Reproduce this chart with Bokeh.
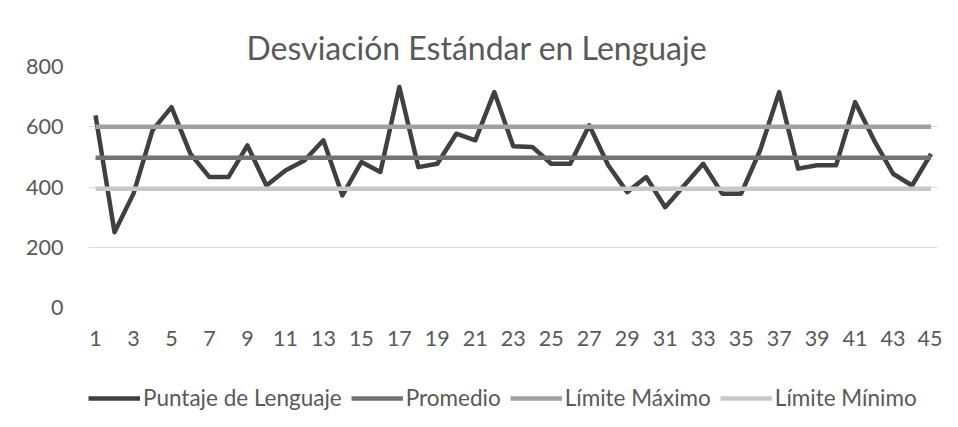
from bokeh.plotting import figure
from bokeh.layouts import column
from bokeh.models import FixedTicker, Legend, LegendItem, Range1d, Title
from bokeh.embed import file_html
from bokeh.resources import INLINE

# ---- data ----
estudiantes = list(range(1, 46))
puntaje = [638, 250, 378, 588, 665, 510, 433, 433, 538, 405,
           455, 488, 555, 372, 483, 450, 732, 466, 477, 577,
           555, 715, 535, 533, 477, 477, 605, 472, 383, 433,
           333, 405, 477, 378, 378, 522, 715, 461, 472, 472,
           682, 555, 444, 405, 510]
promedio_valor = 497
limite_maximo_valor = 600
limite_minimo_valor = 394
promedio = [promedio_valor] * len(estudiantes)
limite_maximo = [limite_maximo_valor] * len(estudiantes)
limite_minimo = [limite_minimo_valor] * len(estudiantes)
y_ticks = [0, 200, 400, 600, 800]
x_ticks = list(range(1, 46, 2))
titulo = "Desviación Estándar en Lenguaje"
nombres = ["Puntaje de Lenguaje", "Promedio", "Límite Máximo", "Límite Mínimo"]

FONT = "Lato"
TXT = "#595959"
colores = ["#404040", "#737373", "#a0a0a0", "#c8c8c8"]
series = [puntaje, promedio, limite_maximo, limite_minimo]
LW = 4.5

x0, x1 = 0.63, 45.34
p = figure(width=942, height=357, output_backend="svg", toolbar_location=None,
           x_range=Range1d(x0, x1), y_range=Range1d(0, 800),
           min_border_left=88, min_border_right=5, min_border_top=66,
           min_border_bottom=50)
p.outline_line_color = None
p.background_fill_color = "white"
p.border_fill_color = "white"

for ys, c in zip(series, colores):
    p.line(estudiantes, ys, line_color=c, line_width=LW, line_join="round")

p.yaxis.ticker = FixedTicker(ticks=y_ticks)
p.xaxis.ticker = FixedTicker(ticks=x_ticks)
for ax in (p.xaxis[0], p.yaxis[0]):
    ax.axis_line_color = None
    ax.major_tick_line_color = None
    ax.minor_tick_line_color = None
    ax.major_tick_out = 0
    ax.major_tick_in = 0
    ax.major_label_text_font = FONT
    ax.major_label_text_font_size = "21.5px"
    ax.major_label_text_color = TXT
p.yaxis.major_label_standoff = 25
p.xaxis.major_label_standoff = 23

p.xgrid.grid_line_color = None
p.ygrid.grid_line_color = "#d9d9d9"
p.ygrid.grid_line_width = 1

p.add_layout(Title(text=titulo, align="left", offset=158, text_font=FONT,
                   text_font_size="32px", text_font_style="normal", text_color=TXT,
                   standoff=0), "above")

# legend strip below the chart (its lines use the same series, outside the strip's visible range)
lf = figure(width=942, height=54, output_backend="svg", toolbar_location=None,
            x_range=Range1d(0, 1), y_range=Range1d(0, 1),
            x_axis_location=None, y_axis_location=None,
            min_border_left=0, min_border_right=0, min_border_top=0, min_border_bottom=0)
lf.outline_line_color = None
lf.xgrid.visible = False
lf.ygrid.visible = False
rs = [lf.line(estudiantes, ys, line_color=c, line_width=LW) for ys, c in zip(series, colores)]
legend = Legend(items=[LegendItem(label=n, renderers=[r]) for n, r in zip(nombres, rs)],
                orientation="horizontal", location="bottom_left",
                label_text_font=FONT, label_text_font_size="22.5px", label_text_color=TXT,
                glyph_width=52, glyph_height=20, label_standoff=3, spacing=9,
                padding=0, margin=0, border_line_color=None, background_fill_alpha=0)
lf.add_layout(legend, "center")

open("out.html", "w").write(file_html(column(p, lf, spacing=0), INLINE))
